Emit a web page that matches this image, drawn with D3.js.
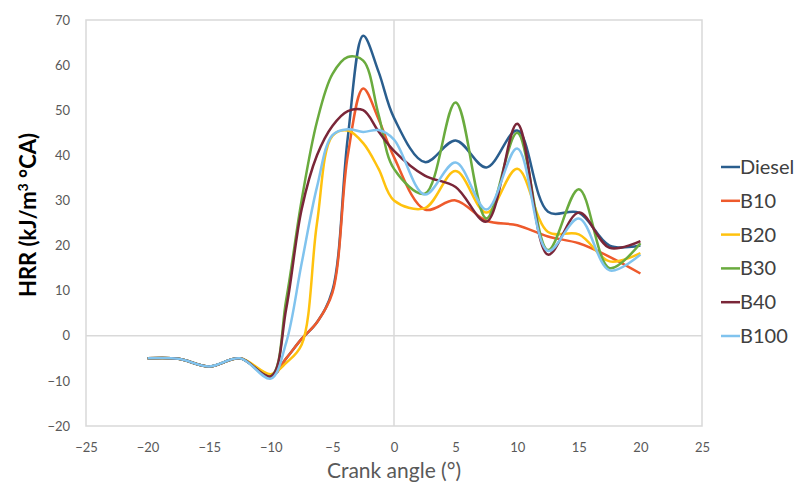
<!DOCTYPE html>
<html><head><meta charset="utf-8">
<script src="https://cdn.jsdelivr.net/npm/d3@7"></script>
<style>
html,body{margin:0;padding:0;background:#fff;}
svg{display:block;font-family:Lato,"Open Sans",sans-serif;}
</style></head>
<body>
<svg id="chart" width="807" height="488"></svg>
<script>
const angles = [-20,-17.5,-15,-12.5,-10,-8.75,-7.5,-6.25,-5,-3.75,-2.5,-1.25,0,2.5,5,7.5,10,12.5,15,17.5,20];
const diesel = [-5,-5.1,-6.8,-5,-9,-5,-0.7,3,10,44,66.5,58.5,48.3,38.5,43.3,37.3,45.5,27.5,27.3,20,20];
const b10    = [-5,-5.1,-6.8,-5,-9,-5,-0.7,3,9.5,40,54.8,48,39.6,28,30,25.5,24.5,22,20.5,17.5,13.8];
const b20    = [-5,-5.1,-6.8,-5,-8.5,-6,-2,25,44.3,45.5,42.7,37,30,28.3,36.5,27.3,37,23,22.5,16.5,18.3];
const b30    = [-5,-5.1,-6.8,-5,-9,8,30,47.5,58,61.8,61,49,37,31.5,51.7,26,45,19,32.5,15,20.5];
const b40    = [-5,-5.1,-6.8,-5,-9,6,28,40,46.5,49.8,50,45.3,41,35.5,33,25.3,47,18,27.3,19.5,21];
const b100   = [-5,-5.1,-6.8,-5,-9.5,-1.5,16,33,44.5,45.8,45.2,45.6,43.5,31.3,38.4,28,41.5,18.8,26,14.5,18];

const seriesNames = ["Diesel","B10","B20","B30","B40","B100"];
const seriesValues = [diesel,b10,b20,b30,b40,b100];
const seriesColors = ["#2A5E8E","#EE5A2C","#FFC20E","#6AAB3E","#7A2638","#80C3EE"];

const xTicks = [-25,-20,-15,-10,-5,0,5,10,15,20,25];
const yTicks = [-20,-10,0,10,20,30,40,50,60,70];

const svg = d3.select("#chart");
const L = 86, R = 702, T = 20, B = 426;
const x = d3.scaleLinear().domain([-25,25]).range([L,R]);
const y = d3.scaleLinear().domain([-20,70]).range([B,T]);

// plot border
svg.append("rect").attr("x",L).attr("y",T).attr("width",R-L).attr("height",B-T)
  .attr("fill","none").attr("stroke","#D9D9D9").attr("stroke-width",1.5);
// zero lines
svg.append("line").attr("x1",x(0)).attr("x2",x(0)).attr("y1",T).attr("y2",B)
  .attr("stroke","#D9D9D9").attr("stroke-width",1.5);
svg.append("line").attr("x1",L).attr("x2",R).attr("y1",y(0)).attr("y2",y(0))
  .attr("stroke","#D9D9D9").attr("stroke-width",1.5);

// axes
const yAxis = svg.append("g").attr("transform",`translate(${L},0)`)
  .call(d3.axisLeft(y).tickValues(yTicks).tickSize(0).tickPadding(16));
const xAxis = svg.append("g").attr("transform",`translate(0,${B})`)
  .call(d3.axisBottom(x).tickValues(xTicks).tickSize(0).tickPadding(17));
[yAxis,xAxis].forEach(g=>{
  g.select(".domain").remove();
  g.selectAll("text").attr("fill","#595959").style("font-size","13px").style("font-family","Lato, sans-serif");
});

// lines
const line = d3.line().x((d,i)=>x(angles[i])).y(d=>y(d)).curve(d3.curveCatmullRom.alpha(0.5));
seriesValues.forEach((vals,k)=>{
  svg.append("path").datum(vals).attr("d",line).attr("fill","none")
    .attr("stroke",seriesColors[k]).attr("stroke-width",2.5).attr("stroke-linejoin","round");
});

// axis titles
svg.append("text").attr("x",x(0)).attr("y",478).attr("text-anchor","middle")
  .attr("fill","#595959").style("font-size","21px").text("Crank angle (°)");
const yt = svg.append("text").attr("transform",`translate(36,${(T+B)/2 - 8}) rotate(-90)`)
  .attr("text-anchor","middle").attr("fill","#000").style("font-size","22px").style("font-weight","bold");
yt.append("tspan").text("HRR (kJ/m");
yt.append("tspan").attr("baseline-shift","super").style("font-size","14px").text("3");
yt.append("tspan").text(" °CA)");

// legend
const lg = svg.append("g");
seriesNames.forEach((n,k)=>{
  const ly = 167 + k*33.8;
  lg.append("line").attr("x1",721).attr("x2",740).attr("y1",ly).attr("y2",ly)
    .attr("stroke",seriesColors[k]).attr("stroke-width",2.5);
  lg.append("text").attr("x",740).attr("y",ly).attr("dy","0.35em")
    .attr("fill","#404040").style("font-size","20px").text(n);
});
</script>
</body></html>
